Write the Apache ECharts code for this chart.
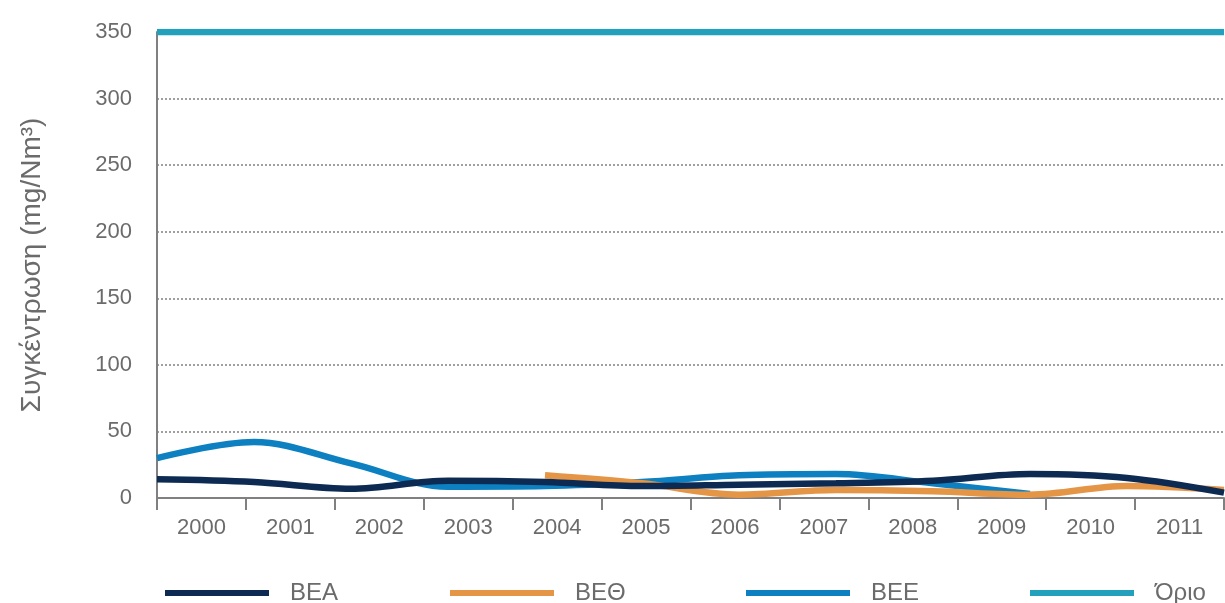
<!DOCTYPE html>
<html>
<head>
<meta charset="utf-8">
<script src="https://cdn.jsdelivr.net/npm/echarts@6/dist/echarts.min.js"></script>
<style>
  html, body { margin: 0; padding: 0; background: #fff; }
  #chart { width: 1225px; height: 603px; }
</style>
</head>
<body>
<div id="chart"></div>
<script>
// years on the axis
const years = ['2000', '2001', '2002', '2003', '2004', '2005', '2006', '2007', '2008', '2009', '2010', '2011'];

// concentrations, one value per year (mg/Nm3)
const bea = [14, 12, 7, 13, 12, 9, 10, 11, 13, 18, 15, 4];
const beth = [null, null, null, null, 17, 11, 2.5, 6, 5, 2.5, 9, 6];
const bee = [30, 42, 26, 8.5, 9, 12, 17, 18, 11, 3, null, null];
const limit = [350, 350, 350, 350, 350, 350, 350, 350, 350, 350, 350, 350];

const names = ['ΒΕΑ', 'ΒΕΘ', 'ΒΕΕ', 'Όριο'];
const colors = ['#0d2b52', '#e49546', '#0c80c0', '#23a0bc'];

const chart = echarts.init(document.getElementById('chart'));

const font = "'Liberation Sans', Arial, sans-serif";

const lineSeries = (i, data) => ({
  name: names[i],
  type: 'line',
  xAxisIndex: 1,
  data: data,
  smooth: 0.35,
  showSymbol: false,
  connectNulls: false,
  lineStyle: { color: colors[i], width: 6.5 },
  itemStyle: { color: colors[i] },
  z: i === 3 ? 1 : 5 - i
});

// one legend per item so each sits where the original puts it
const legendLefts = [160, 445, 741, 1025];
const legends = names.map((n, i) => ({
  data: [n],
  left: legendLefts[i],
  top: 576,
  icon: 'rect',
  itemWidth: 104,
  itemHeight: 6,
  itemGap: 0,
  textStyle: { color: '#6b6b6b', fontSize: 24, fontFamily: font, padding: [0, 0, 0, 16] },
  selectedMode: false
}));

chart.setOption({
  animation: false,
  grid: { left: 157, right: 1, top: 32, bottom: 105 },
  legend: legends,
  xAxis: [
    {
      type: 'category',
      data: years,
      boundaryGap: true,
      axisLine: { lineStyle: { color: '#808080', width: 2 } },
      axisTick: { show: true, length: 12, lineStyle: { color: '#808080', width: 2 } },
      axisLabel: { color: '#6b6b6b', fontSize: 22, fontFamily: font, margin: 19 },
      splitLine: { show: false }
    },
    {
      type: 'category',
      data: years,
      boundaryGap: false,
      show: false
    }
  ],
  yAxis: {
    type: 'value',
    min: 0,
    max: 350,
    interval: 50,
    name: 'Συγκέντρωση (mg/Nm³)',
    nameLocation: 'middle',
    nameGap: 111,
    nameTextStyle: { color: '#6b6b6b', fontSize: 28, fontFamily: font },
    axisLine: { show: true, lineStyle: { color: '#808080', width: 2 } },
    axisTick: { show: false },
    axisLabel: { color: '#6b6b6b', fontSize: 22, fontFamily: font, margin: 25 },
    splitLine: { show: true, lineStyle: { color: '#a0a0a0', type: 'dotted', width: 2 } }
  },
  series: [
    lineSeries(3, limit),
    lineSeries(0, bea),
    lineSeries(1, beth),
    lineSeries(2, bee)
  ]
});
</script>
</body>
</html>
